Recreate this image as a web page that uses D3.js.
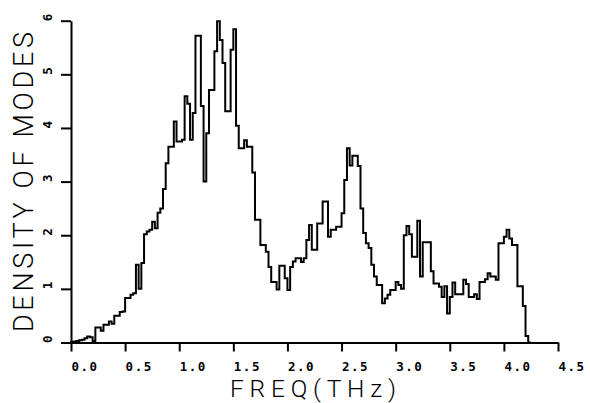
<!DOCTYPE html>
<html>
<head>
<meta charset="utf-8">
<script src="https://cdn.jsdelivr.net/npm/d3@7"></script>
<style>
  html, body { margin: 0; padding: 0; background: #fff; }
  svg { display: block; }
  .tickLabel { font-family: "DejaVu Sans Mono", monospace; font-weight: bold; font-size: 12.5px; fill: #000; }
  .axisTitle { font-family: Roboto, "DejaVu Sans", sans-serif; font-weight: 300; font-size: 27px; fill: #000; }
</style>
</head>
<body>
<script>
// histogram bins, 0.025 THz wide, starting at 0
var binWidth = 0.025;
var dosValues = [
  0.01, 0.02, 0.03, 0.04, 0.05, 0.08, 0.11, 0.10, 0.03, 0.28,
  0.28, 0.22, 0.33, 0.33, 0.39, 0.35, 0.50, 0.50, 0.57, 0.58,
  0.83, 0.83, 0.89, 0.92, 1.45, 1.00, 1.48, 2.02, 2.07, 2.10,
  2.25, 2.13, 2.42, 2.50, 2.86, 3.34, 3.65, 3.65, 4.12, 3.75,
  3.75, 3.78, 4.59, 4.45, 3.78, 4.28, 5.72, 5.72, 4.41, 3.00,
  3.90, 4.71, 4.71, 5.43, 5.99, 5.64, 5.21, 4.31, 4.31, 5.46,
  5.84, 4.04, 3.62, 3.62, 3.77, 3.65, 3.65, 3.17, 2.29, 2.29,
  1.82, 1.82, 1.69, 1.41, 1.13, 1.13, 0.99, 1.43, 1.43, 1.20,
  0.98, 1.41, 1.51, 1.57, 1.57, 1.50, 1.57, 1.91, 2.19, 1.73,
  1.73, 2.22, 2.22, 2.63, 2.63, 1.97, 2.10, 2.10, 2.16, 2.16,
  2.41, 3.03, 3.62, 3.30, 3.48, 3.48, 3.29, 2.50, 2.04, 1.85,
  1.76, 1.45, 1.23, 1.07, 1.07, 0.73, 0.82, 0.89, 0.98, 0.98,
  1.13, 1.07, 1.00, 2.00, 2.17, 2.02, 1.60, 1.60, 2.27, 1.23,
  1.87, 1.87, 1.87, 1.33, 1.10, 1.10, 1.04, 0.85, 1.05, 0.54,
  0.85, 1.12, 0.90, 0.90, 0.90, 1.17, 1.09, 0.85, 0.85, 0.90,
  0.81, 1.13, 1.13, 1.18, 1.29, 1.23, 1.23, 1.17, 1.85, 1.85,
  1.97, 2.10, 1.94, 1.82, 1.82, 1.05, 1.05, 0.68, 0.12
];

var xTicks = [0, 0.5, 1.0, 1.5, 2.0, 2.5, 3.0, 3.5, 4.0, 4.5];
var yTicks = [0, 1, 2, 3, 4, 5, 6];
var xTitle = "FREQ(THz)";
var yTitle = "DENSITY OF MODES";

var w = 590, h = 403;

var svg = d3.select("body").append("svg")
  .attr("width", w)
  .attr("height", h);

var x = d3.scaleLinear().domain([0, 4.5]).range([71, 558]);
var y = d3.scaleLinear().domain([0, 6]).range([342.5, 20.7]);

// step outline of the histogram
var pts = dosValues.map(function(v, i){ return [i * binWidth, v]; });
pts.unshift([0, 0]);
pts.push([dosValues.length * binWidth, 0]);
pts.push([dosValues.length * binWidth + binWidth, 0]);

var line = d3.line()
  .x(function(d){ return x(d[0]); })
  .y(function(d){ return y(d[1]); })
  .curve(d3.curveStepAfter);

// axes
var xAxis = d3.axisBottom(x)
  .tickValues(xTicks)
  .tickFormat(d3.format(".1f"))
  .tickSize(9)
  .tickSizeOuter(0);

var yAxis = d3.axisLeft(y)
  .tickValues(yTicks)
  .tickFormat(d3.format("d"))
  .tickSize(10)
  .tickSizeOuter(0);

var gx = svg.append("g")
  .attr("transform", "translate(0," + y(0) + ")")
  .call(xAxis);

var gy = svg.append("g")
  .attr("transform", "translate(" + x(0) + ",0)")
  .call(yAxis);

[gx, gy].forEach(function(g){
  g.select(".domain").attr("stroke", "#000").attr("stroke-width", 2);
  g.selectAll(".tick line").attr("stroke", "#000").attr("stroke-width", 2);
  g.selectAll(".tick text")
    .attr("class", "tickLabel")
    .attr("font-family", null)
    .attr("font-size", null)
    .style("letter-spacing", "1.5px");
});

gx.selectAll(".tick text")
  .attr("text-anchor", "start")
  .attr("y", 28.5)
  .attr("dy", 0)
  .attr("x", 0);

gy.selectAll(".tick text")
  .attr("text-anchor", "start")
  .attr("transform", "rotate(-90)")
  .attr("x", 0)
  .attr("y", -19)
  .attr("dy", 0);

svg.append("path")
  .datum(pts)
  .attr("fill", "none")
  .attr("stroke", "#000")
  .attr("stroke-width", 2)
  .attr("d", line);

// titles
svg.append("text")
  .attr("class", "axisTitle")
  .attr("x", 313)
  .attr("y", 397)
  .attr("text-anchor", "middle")
  .attr("textLength", 166)
  .attr("lengthAdjust", "spacing")
  .style("font-size", "24.5px")
  .text(xTitle);

svg.append("text")
  .attr("class", "axisTitle")
  .attr("transform", "translate(33,182) rotate(-90)")
  .attr("text-anchor", "middle")
  .attr("textLength", 300)
  .attr("lengthAdjust", "spacing")
  .text(yTitle);
</script>
</body>
</html>
